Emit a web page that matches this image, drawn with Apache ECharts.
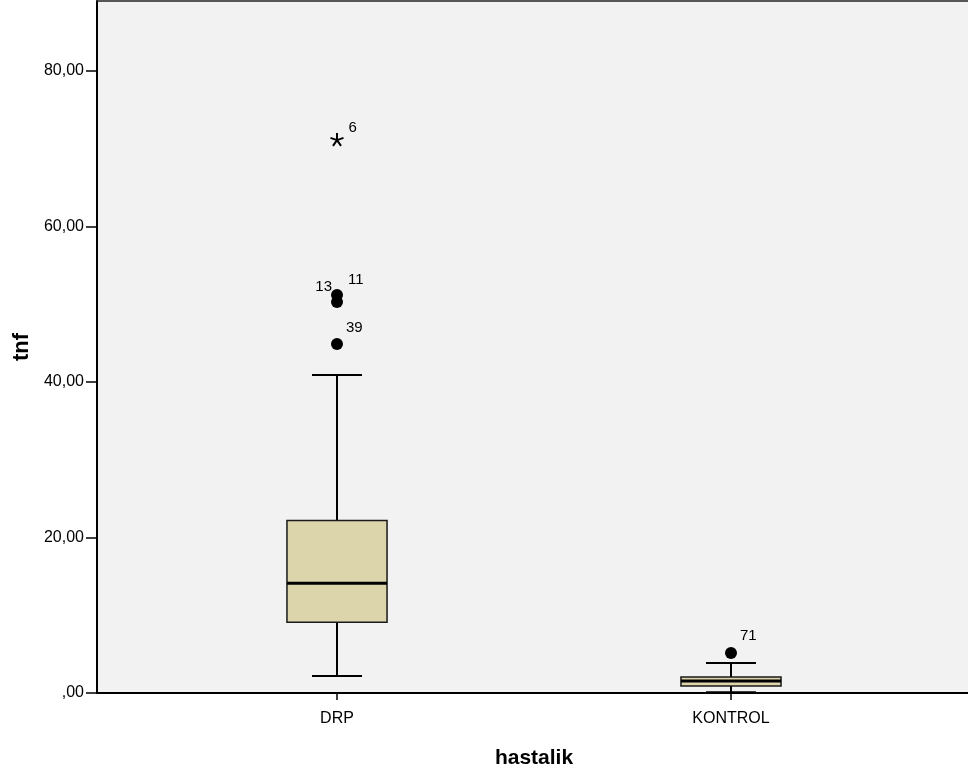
<!DOCTYPE html>
<html>
<head>
<meta charset="utf-8">
<script src="https://cdn.jsdelivr.net/npm/echarts@6/dist/echarts.min.js"></script>
<style>html,body{margin:0;padding:0;background:#fff}#c{width:968px;height:778px}</style>
</head>
<body>
<div id="c"></div>
<script>
const categories = ['DRP', 'KONTROL'];
const boxMin = [2.2, 0.1];
const boxQ1 = [9.1, 0.9];
const boxMedian = [14.1, 1.55];
const boxQ3 = [22.2, 2.05];
const boxMax = [40.9, 3.85];
const outlierCats = ['DRP', 'DRP', 'DRP', 'KONTROL'];
const outlierValues = [51.2, 50.3, 44.9, 5.15];
const outlierIds = ['11', '13', '39', '71'];
const extremeCats = ['DRP'];
const extremeValues = [71.2];
const extremeIds = ['6'];
const yTicks = [0, 20, 40, 60, 80];

const FONT = '"Liberation Sans", Arial, sans-serif';
const chart = echarts.init(document.getElementById('c'));

const boxData = categories.map((c, i) => [i, boxMin[i], boxQ1[i], boxMedian[i], boxQ3[i], boxMax[i]]);

const labelCfg = {
  '11': {position: 'right', offset: [0, -15]},
  '13': {position: 'left', offset: [6, -15]},
  '39': {position: 'right', offset: [-2, -16]},
  '71': {position: 'right', offset: [-2, -17]},
  '6': {position: 'right', offset: [-1, -12]}
};
function mkLabel(id) {
  return Object.assign({show: true, formatter: id, fontSize: 15, color: '#000', fontFamily: FONT, distance: 5}, labelCfg[id]);
}
const outlierData = outlierValues.map((v, i) => ({value: [outlierCats[i], v], label: mkLabel(outlierIds[i])}));
const extremeData = extremeValues.map((v, i) => ({value: [extremeCats[i], v], label: mkLabel(extremeIds[i])}));

const starPath = 'path://M0,0L0,-10M0,0L9.5,-3.1M0,0L-9.5,-3.1M0,0L5.9,8.1M0,0L-5.9,8.1';

chart.setOption({
  animation: false,
  backgroundColor: '#fff',
  textStyle: {fontFamily: FONT},
  grid: [
    {left: 97, right: 0, top: 1, bottom: 85, show: true, backgroundColor: '#f2f2f2', borderWidth: 0, containLabel: false},
    {left: 140, right: 40, top: 1, bottom: 85, containLabel: false}
  ],
  xAxis: [
    {gridIndex: 0, type: 'value', min: 0, max: 1, axisLine: {show: true, onZero: false, lineStyle: {color: '#000', width: 2}}, axisTick: {show: false}, axisLabel: {show: false}, splitLine: {show: false}},
    {gridIndex: 1, type: 'category', data: categories, boundaryGap: true,
      axisLine: {show: false}, axisTick: {show: true, alignWithLabel: true, length: 7, lineStyle: {color: '#000', width: 1.5}},
      axisLabel: {fontSize: 16, color: '#000', margin: 18, fontFamily: FONT},
      name: 'hastalik', nameLocation: 'middle', nameGap: 55,
      nameTextStyle: {fontSize: 21, fontWeight: 'bold', color: '#000', fontFamily: FONT}},
    {gridIndex: 0, type: 'value', position: 'top', min: 0, max: 1, axisLine: {show: true, onZero: false, lineStyle: {color: '#222', width: 1.5}}, axisTick: {show: false}, axisLabel: {show: false}, splitLine: {show: false}}
  ],
  yAxis: [
    {gridIndex: 0, type: 'value', min: 0, max: 89,
      axisLine: {show: true, onZero: false, lineStyle: {color: '#000', width: 2}},
      axisTick: {show: true, length: 11, customValues: yTicks, lineStyle: {color: '#000', width: 1.5}},
      axisLabel: {customValues: yTicks, fontSize: 16, color: '#000', margin: 13, fontFamily: FONT,
        formatter: v => v === 0 ? ',00' : v.toFixed(2).replace('.', ',')},
      splitLine: {show: false},
      name: 'tnf', nameLocation: 'middle', nameGap: 59,
      nameTextStyle: {fontSize: 22, fontWeight: 'bold', color: '#000', fontFamily: FONT}},
    {gridIndex: 1, type: 'value', min: 0, max: 89, show: false}
  ],
  series: [
    {
      type: 'custom', xAxisIndex: 1, yAxisIndex: 1, z: 3,
      encode: {x: 0, y: [1, 2, 3, 4, 5]},
      data: boxData,
      renderItem: function (params, api) {
        const cat = api.value(0);
        const pMin = api.coord([cat, api.value(1)]);
        const pQ1 = api.coord([cat, api.value(2)]);
        const pMed = api.coord([cat, api.value(3)]);
        const pQ3 = api.coord([cat, api.value(4)]);
        const pMax = api.coord([cat, api.value(5)]);
        const band = api.size([1, 0])[0];
        const hw = band * 0.254 / 2;
        const cw = hw * 0.5;
        const x = pMed[0];
        const ls = {stroke: '#000', lineWidth: 2};
        return {
          type: 'group',
          children: [
            {type: 'line', shape: {x1: x, y1: pMin[1], x2: x, y2: pQ1[1]}, style: ls},
            {type: 'line', shape: {x1: x, y1: pQ3[1], x2: x, y2: pMax[1]}, style: ls},
            {type: 'line', shape: {x1: x - cw, y1: pMin[1], x2: x + cw, y2: pMin[1]}, style: ls},
            {type: 'line', shape: {x1: x - cw, y1: pMax[1], x2: x + cw, y2: pMax[1]}, style: ls},
            {type: 'rect', shape: {x: x - hw, y: pQ3[1], width: hw * 2, height: pQ1[1] - pQ3[1]}, style: {fill: '#dcd4aa', stroke: '#1a1a1a', lineWidth: 1.5}},
            {type: 'line', shape: {x1: x - hw, y1: pMed[1], x2: x + hw, y2: pMed[1]}, style: {stroke: '#000', lineWidth: 3}}
          ]
        };
      }
    },
    {
      type: 'scatter', xAxisIndex: 1, yAxisIndex: 1, z: 4,
      symbol: 'circle', symbolSize: 12,
      itemStyle: {color: '#000', opacity: 1},
      data: outlierData
    },
    {
      type: 'scatter', xAxisIndex: 1, yAxisIndex: 1, z: 4,
      symbol: starPath, symbolSize: 13,
      itemStyle: {color: 'rgba(0,0,0,0)', borderColor: '#000', borderWidth: 2, opacity: 1},
      data: extremeData
    }
  ]
});
</script>
</body>
</html>
